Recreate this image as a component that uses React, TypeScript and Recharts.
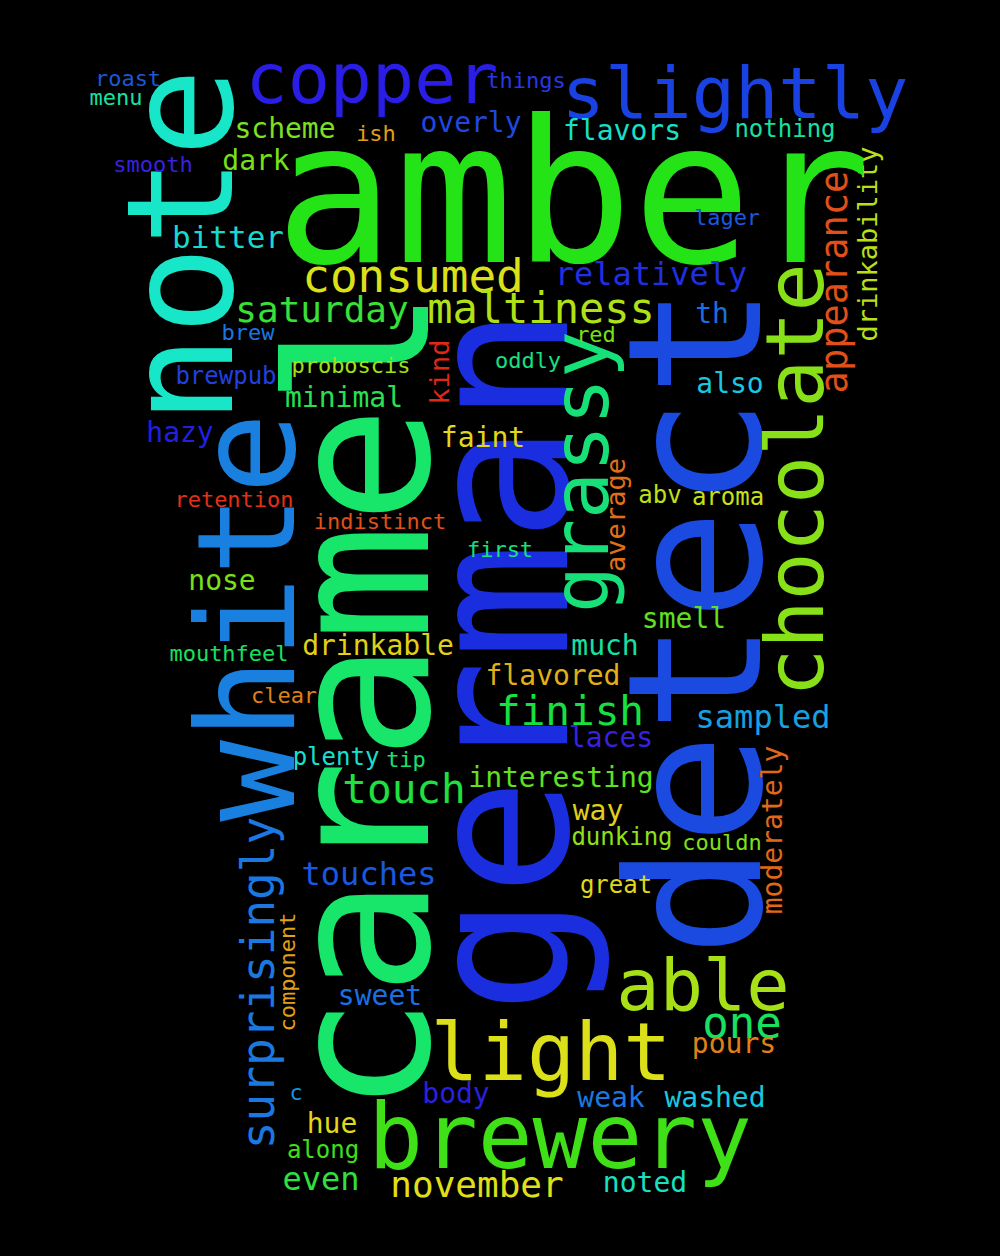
import { ScatterChart, Scatter, XAxis, YAxis } from 'recharts';

// word cloud: each word is one scatter point, drawn as text
const words = [
  'amber', 'copper', 'slightly', 'roast', 'menu', 'things', 'scheme', 'ish', 'overly', 'flavors',
  'nothing', 'smooth', 'dark', 'lager', 'bitter', 'consumed', 'relatively', 'saturday', 'maltiness', 'th',
  'brew', 'red', 'proboscis', 'oddly', 'brewpub', 'minimal', 'also', 'hazy', 'faint', 'retention',
  'abv', 'aroma', 'indistinct', 'first', 'nose', 'smell', 'much', 'drinkable', 'mouthfeel', 'flavored',
  'clear', 'finish', 'sampled', 'laces', 'plenty', 'tip', 'touch', 'interesting', 'way', 'dunking',
  'couldn', 'touches', 'great', 'able', 'sweet', 'one', 'light', 'pours', 'c', 'body',
  'weak', 'washed', 'hue', 'along', 'even', 'november', 'noted', 'brewery',
  'note', 'white', 'caramel', 'german', 'detect', 'grassy', 'chocolate', 'appearance', 'drinkability', 'kind',
  'average', 'surprisingly', 'component', 'moderately',
];

const xs = [
  573, 372, 735, 128, 116, 526, 285, 376, 471, 622,
  785, 153, 256, 727, 228, 413, 651, 322, 541, 712,
  248, 596, 351, 528, 226, 344, 730, 180, 483, 234,
  660, 728, 380, 500, 222, 684, 605, 378, 229, 553,
  284, 570, 763, 611, 336, 406, 404, 561, 598, 622,
  722, 369, 616, 703, 380, 742, 551, 734, 296, 456,
  611, 715, 332, 323, 321, 477, 645, 560,
  232, 294, 428, 567, 760, 608, 823, 847, 877, 449,
  625, 274, 295, 782,
];

const ys = [
  262, 103, 118, 86, 105, 88, 138, 141, 132, 140,
  137, 172, 170, 225, 248, 292, 285, 322, 323, 323,
  340, 342, 373, 368, 384, 407, 393, 442, 447, 507,
  503, 505, 529, 557, 590, 628, 655, 655, 661, 685,
  703, 725, 728, 747, 765, 767, 803, 787, 820, 845,
  850, 885, 893, 1010, 1005, 1038, 1080, 1053, 1100, 1103,
  1107, 1107, 1133, 1158, 1190, 1197, 1192, 1168,
  246, 617, 701, 660, 621, 472, 480, 282, 244, 372,
  515, 983, 972, 830,
];

const sizes = [
  198, 70, 72, 22, 22, 22, 28, 22, 28, 28,
  24, 22, 28, 22, 31, 46, 32, 36, 42, 28,
  22, 22, 22, 22, 24, 28, 28, 28, 28, 22,
  24, 24, 22, 22, 28, 28, 28, 28, 22, 28,
  22, 41, 32, 28, 24, 22, 41, 28, 28, 24,
  22, 32, 24, 72, 28, 44, 80, 28, 22, 28,
  28, 28, 28, 24, 32, 36, 28, 91,
  148, 136, 196, 196, 186, 78, 80, 37, 27, 27,
  27, 46, 22, 28,
];

const angles = [
  0, 0, 0, 0, 0, 0, 0, 0, 0, 0,
  0, 0, 0, 0, 0, 0, 0, 0, 0, 0,
  0, 0, 0, 0, 0, 0, 0, 0, 0, 0,
  0, 0, 0, 0, 0, 0, 0, 0, 0, 0,
  0, 0, 0, 0, 0, 0, 0, 0, 0, 0,
  0, 0, 0, 0, 0, 0, 0, 0, 0, 0,
  0, 0, 0, 0, 0, 0, 0, 0,
  90, 90, 90, 90, 90, 90, 90, 90, 90, 90,
  90, 90, 90, 90,
];

const colors = [
  '#24e418', '#2a1de6', '#1a42e2', '#1a58d8', '#18e0a0', '#2838e0', '#7ee022', '#e0a018', '#2048e0', '#18e0c8',
  '#18e0a0', '#3a20e0', '#78e018', '#1a58e0', '#18d8d0', '#dce018', '#2030e0', '#38e038', '#b0e018', '#1a70e0',
  '#1a78e0', '#78e018', '#a0e018', '#18e080', '#2040e0', '#28e050', '#18c8e0', '#2020e0', '#e0d818', '#e03018',
  '#c0e018', '#c8e018', '#e05018', '#18e080', '#78e018', '#60e020', '#18e0a0', '#e0d018', '#18e060', '#e0b018',
  '#e08018', '#18e040', '#18a0e0', '#3a20e0', '#18e0d0', '#18e070', '#20e040', '#60e020', '#e0d018', '#90e018',
  '#80e018', '#1a58e0', '#e0d818', '#a8e018', '#1a70e0', '#18e060', '#dce018', '#e08018', '#1a90e0', '#2a20e0',
  '#1a78e0', '#18c8e0', '#e0d818', '#40e018', '#30e040', '#e0e018', '#18e0c0', '#40e018',
  '#18e6c8', '#1a80e0', '#18e66a', '#1a2ee0', '#1a4ae0', '#18e078', '#88e018', '#e05018', '#b8e018', '#e02818',
  '#e07018', '#1a78e0', '#e0a018', '#e06818',
];

const data = words.map((word, i) => ({
  word,
  x: xs[i],
  y: ys[i],
  size: sizes[i],
  angle: angles[i],
  color: colors[i],
}));

// upright words drawn last so the small ones stay on top
const vertical = data.filter((d) => d.angle !== 0);
const horizontal = data.filter((d) => d.angle === 0);

const WordShape = (props: any) => {
  const { cx, cy, payload } = props;
  if (cx == null || cy == null) return null;
  return (
    <text
      transform={`translate(${cx},${cy}) rotate(${-payload.angle})`}
      textAnchor="middle"
      fontSize={payload.size}
      fill={payload.color}
      fontFamily="'DejaVu Sans Mono', monospace"
    >
      {payload.word}
    </text>
  );
};

export default function App() {
  return (
    <div style={{ position: 'absolute', left: 0, top: 0, width: 1000, height: 1256, background: '#000' }}>
      <ScatterChart width={1000} height={1256} margin={{ top: 0, right: 0, bottom: 0, left: 0 }}>
        <XAxis type="number" dataKey="x" domain={[0, 1000]} hide />
        <YAxis type="number" dataKey="y" domain={[0, 1256]} reversed hide />
        <Scatter data={vertical} shape={WordShape} isAnimationActive={false} />
        <Scatter data={horizontal} shape={WordShape} isAnimationActive={false} />
      </ScatterChart>
    </div>
  );
}
